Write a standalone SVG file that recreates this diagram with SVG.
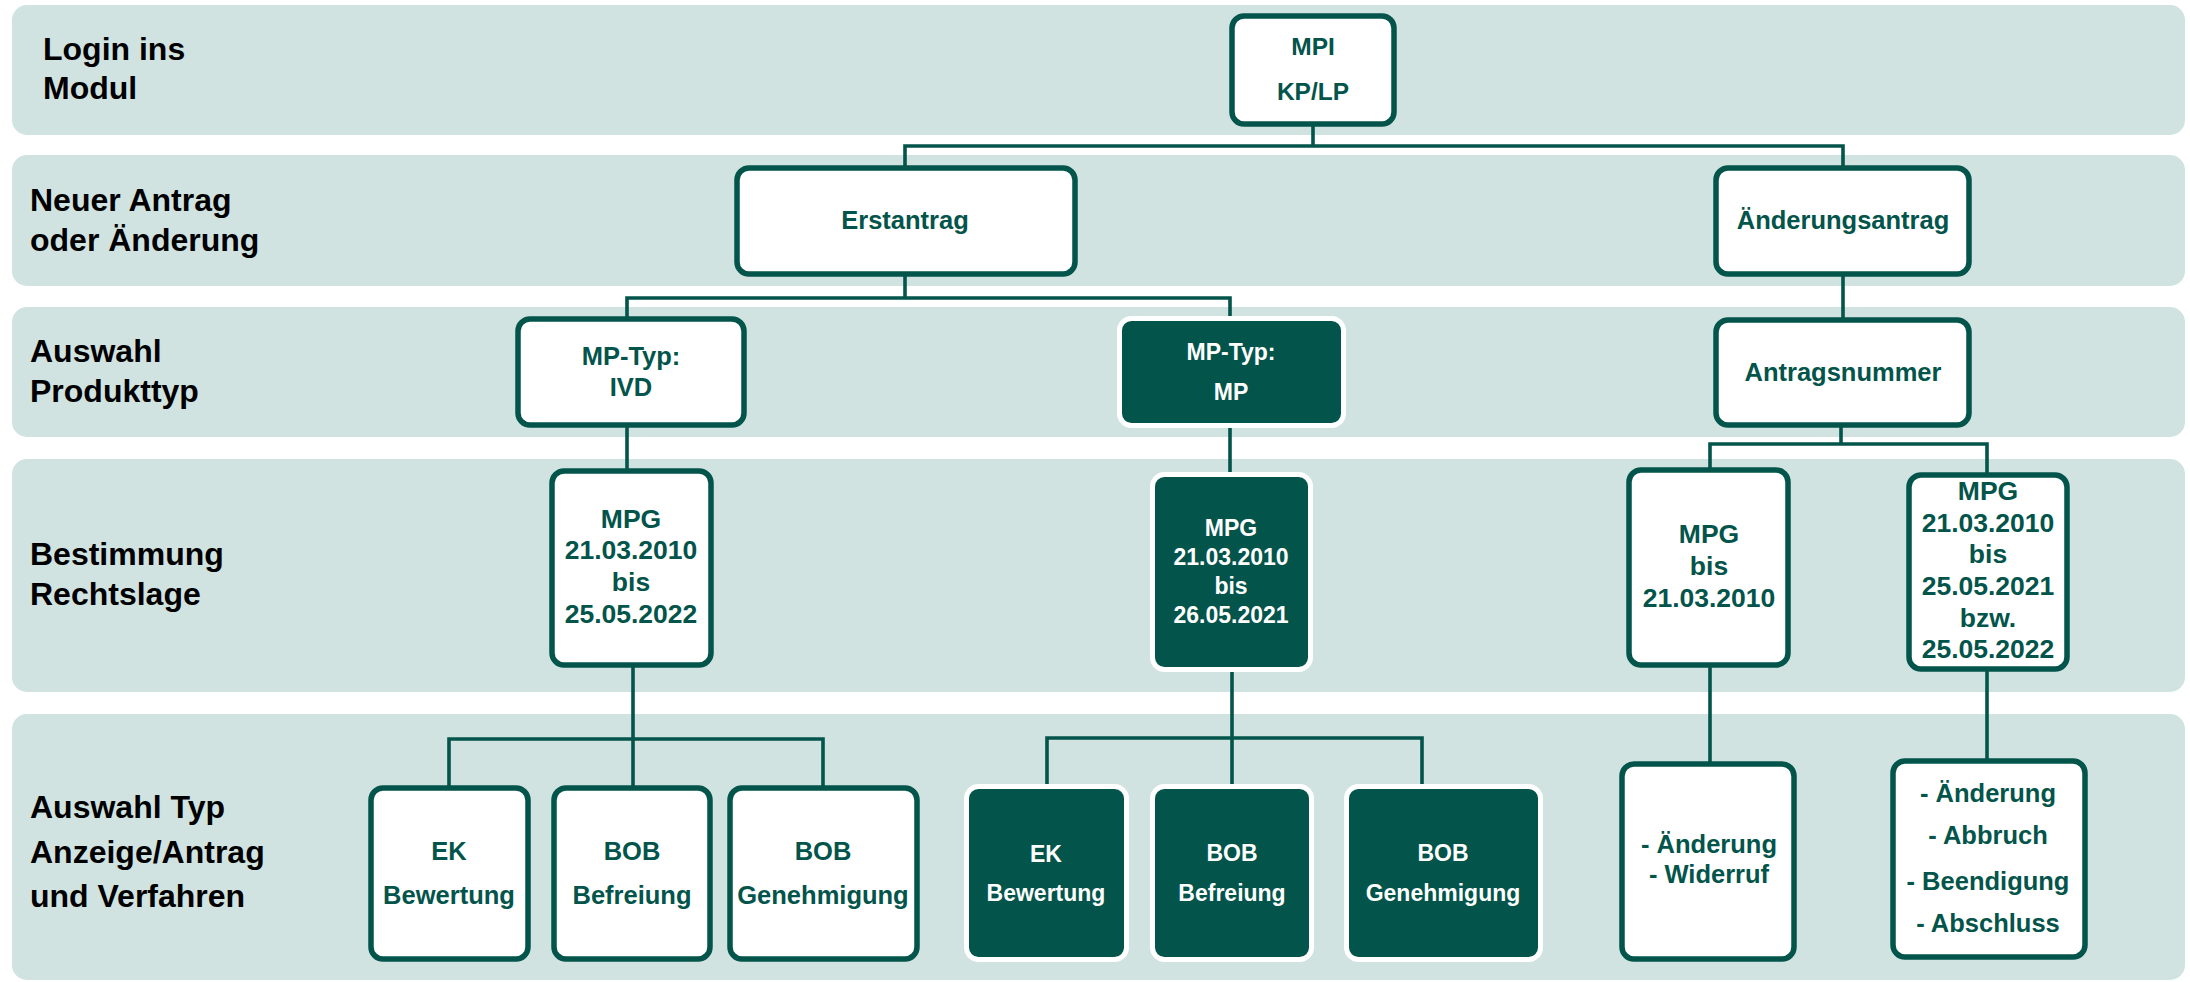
<svg xmlns="http://www.w3.org/2000/svg" width="2190" height="982" viewBox="0 0 2190 982">
<style>
.band{fill:#D0E3E0}
.lbl{font-family:"Liberation Sans",Arial,sans-serif;font-weight:bold;font-size:32px;fill:#000}
.nw rect{fill:#fff;stroke:#03544A;stroke-width:5.5}
.nd rect{fill:#03544A;stroke:#fff;stroke-width:5}
.nw text{font-family:"Liberation Sans",Arial,sans-serif;font-weight:bold;font-size:25.5px;fill:#03544A;text-anchor:middle}
.nd text{font-family:"Liberation Sans",Arial,sans-serif;font-weight:bold;font-size:23px;fill:#fff;text-anchor:middle}
.big text{font-size:26.5px}
.conn path{fill:none;stroke:#03544A;stroke-width:3.6}
</style>
<g id="bands">
<rect class="band" x="12" y="5" width="2173" height="130" rx="15"/>
<rect class="band" x="12" y="155" width="2173" height="131" rx="15"/>
<rect class="band" x="12" y="307" width="2173" height="130" rx="15"/>
<rect class="band" x="12" y="459" width="2173" height="233" rx="15"/>
<rect class="band" x="12" y="714" width="2173" height="266" rx="15"/>
</g>
<g id="labels">
<text class="lbl" x="43" y="60">Login ins</text>
<text class="lbl" x="43" y="99">Modul</text>
<text class="lbl" x="30" y="211">Neuer Antrag</text>
<text class="lbl" x="30" y="251">oder Änderung</text>
<text class="lbl" x="30" y="362">Auswahl</text>
<text class="lbl" x="30" y="402">Produkttyp</text>
<text class="lbl" x="30" y="565">Bestimmung</text>
<text class="lbl" x="30" y="605">Rechtslage</text>
<text class="lbl" x="30" y="818">Auswahl Typ</text>
<text class="lbl" x="30" y="863">Anzeige/Antrag</text>
<text class="lbl" x="30" y="907">und Verfahren</text>
</g>
<g id="connectors" class="conn">
<path d="M1313 124 V146"/>
<path d="M905 168 V146 H1843 V168"/>
<path d="M905 274 V298"/>
<path d="M627 319 V298 H1230 V318"/>
<path d="M1843 274 V320"/>
<path d="M627 425 V471"/>
<path d="M1230 426 V474"/>
<path d="M1841 425 V444"/>
<path d="M1710 470 V444 H1987 V475"/>
<path d="M633 665 V788"/>
<path d="M449 788 V739 H823 V788"/>
<path d="M1232 670 V787"/>
<path d="M1047 787 V738 H1422 V787"/>
<path d="M1710 665 V764"/>
<path d="M1987 669 V761"/>
</g>
<g id="n-mpi" class="nw">
<rect x="1232" y="16" width="162" height="108" rx="12"/>
<text x="1313" y="55" style="font-size:24.5px">MPI</text>
<text x="1313" y="100" style="font-size:24.5px">KP/LP</text>
</g>
<g id="n-erstantrag" class="nw">
<rect x="737" y="168" width="338" height="106" rx="12"/>
<text x="905" y="229">Erstantrag</text>
</g>
<g id="n-aenderungsantrag" class="nw">
<rect x="1716" y="168" width="253" height="106" rx="12"/>
<text x="1843" y="229">Änderungsantrag</text>
</g>
<g id="n-ivd" class="nw">
<rect x="518" y="319" width="226" height="106" rx="12"/>
<text x="631" y="365">MP-Typ:</text>
<text x="631" y="396">IVD</text>
</g>
<g id="n-mp" class="nd">
<rect x="1119.5" y="318.5" width="224" height="107" rx="12"/>
<text x="1231" y="360">MP-Typ:</text>
<text x="1231" y="400">MP</text>
</g>
<g id="n-antragsnummer" class="nw">
<rect x="1716" y="320" width="253" height="105" rx="12"/>
<text x="1843" y="381">Antragsnummer</text>
</g>
<g id="n-ivd-mpg" class="nw big">
<rect x="552" y="471" width="159" height="194" rx="12"/>
<text x="631" y="528">MPG</text>
<text x="631" y="559">21.03.2010</text>
<text x="631" y="591">bis</text>
<text x="631" y="623">25.05.2022</text>
</g>
<g id="n-mp-mpg" class="nd">
<rect x="1152.5" y="474.5" width="158" height="195" rx="12"/>
<text x="1231" y="536">MPG</text>
<text x="1231" y="565">21.03.2010</text>
<text x="1231" y="594">bis</text>
<text x="1231" y="623">26.05.2021</text>
</g>
<g id="n-mpg-bis" class="nw big">
<rect x="1629" y="470" width="159" height="195" rx="12"/>
<text x="1709" y="543">MPG</text>
<text x="1709" y="575">bis</text>
<text x="1709" y="607">21.03.2010</text>
</g>
<g id="n-mpg-bzw" class="nw big">
<rect x="1909" y="475" width="158" height="194" rx="12"/>
<text x="1988" y="500">MPG</text>
<text x="1988" y="532">21.03.2010</text>
<text x="1988" y="563">bis</text>
<text x="1988" y="595">25.05.2021</text>
<text x="1988" y="627">bzw.</text>
<text x="1988" y="658">25.05.2022</text>
</g>
<g id="n-ivd-ek" class="nw">
<rect x="371" y="788" width="157" height="171" rx="12"/>
<text x="449" y="860">EK</text>
<text x="449" y="904">Bewertung</text>
</g>
<g id="n-ivd-bob-bef" class="nw">
<rect x="554" y="788" width="156" height="171" rx="12"/>
<text x="632" y="860">BOB</text>
<text x="632" y="904">Befreiung</text>
</g>
<g id="n-ivd-bob-gen" class="nw">
<rect x="730" y="788" width="187" height="171" rx="12"/>
<text x="823" y="860">BOB</text>
<text x="823" y="904">Genehmigung</text>
</g>
<g id="n-mp-ek" class="nd">
<rect x="966.5" y="786.5" width="160" height="173" rx="12"/>
<text x="1046" y="862">EK</text>
<text x="1046" y="901">Bewertung</text>
</g>
<g id="n-mp-bob-bef" class="nd">
<rect x="1152.5" y="786.5" width="159" height="173" rx="12"/>
<text x="1232" y="861">BOB</text>
<text x="1232" y="901">Befreiung</text>
</g>
<g id="n-mp-bob-gen" class="nd">
<rect x="1346.5" y="786.5" width="194" height="173" rx="12"/>
<text x="1443" y="861">BOB</text>
<text x="1443" y="901">Genehmigung</text>
</g>
<g id="n-aend-wid" class="nw">
<rect x="1622" y="764" width="172" height="195" rx="12"/>
<text x="1709" y="853">- Änderung</text>
<text x="1709" y="883">- Widerruf</text>
</g>
<g id="n-aend-list" class="nw">
<rect x="1893" y="761" width="192" height="196" rx="12"/>
<text x="1988" y="802">- Änderung</text>
<text x="1988" y="844">- Abbruch</text>
<text x="1988" y="890">- Beendigung</text>
<text x="1988" y="932">- Abschluss</text>
</g>
</svg>
